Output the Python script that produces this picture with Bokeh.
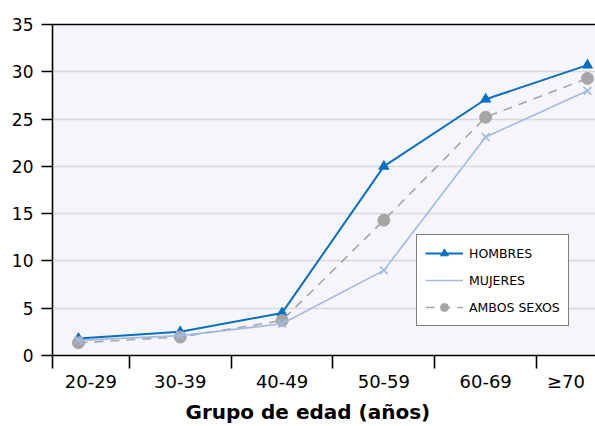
from bokeh.plotting import figure
from bokeh.models import (Range1d, LinearAxis, FixedTicker, Legend, LegendItem, Title, Grid)
from bokeh.embed import file_html
from bokeh.resources import INLINE

# ---- data ----
grupos = ["20-29", "30-39", "40-49", "50-59", "60-69", "\u226570"]
hombres = [1.8, 2.5, 4.5, 20.0, 27.1, 30.7]
mujeres = [1.6, 2.1, 3.35, 9.0, 23.1, 28.0]
ambos = [1.35, 1.95, 3.7, 14.3, 25.2, 29.3]
y_ticks = [0, 5, 10, 15, 20, 25, 30, 35]
x_title = "Grupo de edad (años)"
serie_names = ["HOMBRES", "MUJERES", "AMBOS SEXOS"]

FONT = "DejaVu Sans"
C_H = "#0870bf"
C_M = "#a2b9e3"
C_A = "#a6a6a6"

xs = list(range(len(grupos)))
x_start, x_end = -0.255, 5.079

p = figure(width=595, height=426, output_backend="svg", toolbar_location=None,
           x_range=Range1d(x_start, x_end), y_range=Range1d(0, 35),
           x_axis_type=None, y_axis_type=None,
           min_border_left=52, min_border_right=0, min_border_top=24, min_border_bottom=71)
p.background_fill_color = "#f5f5fa"
p.border_fill_color = "white"
p.outline_line_color = None

# y axis
yax = LinearAxis(ticker=FixedTicker(ticks=y_ticks))
yax.axis_line_color = "black"
yax.axis_line_width = 1.6
yax.major_tick_out = 11
yax.major_tick_in = 0
yax.major_tick_line_width = 1.6
yax.minor_tick_line_color = None
yax.major_label_text_font = FONT
yax.major_label_text_font_size = "17px"
yax.major_label_text_color = "black"
yax.major_label_standoff = 8
p.add_layout(yax, "left")

# x axis: labels centred in the visible category bands, tick marks on band boundaries
bounds = [i + 0.5 for i in xs[:-1]]
edges = [x_start] + bounds + [x_end]
label_pos = [(edges[i] + edges[i + 1]) / 2 for i in range(len(grupos))]
xax = LinearAxis(ticker=FixedTicker(ticks=label_pos, minor_ticks=[x_start] + bounds))
xax.major_label_overrides = {lp: g for lp, g in zip(label_pos, grupos)}
xax.axis_line_color = "black"
xax.axis_line_width = 1.6
xax.major_tick_out = 0
xax.major_tick_in = 0
xax.major_tick_line_color = None
xax.minor_tick_out = 13
xax.minor_tick_in = 0
xax.minor_tick_line_color = "black"
xax.minor_tick_line_width = 1.6
xax.major_label_text_font = FONT
xax.major_label_text_font_size = "18px"
xax.major_label_text_color = "black"
xax.major_label_standoff = 2
p.add_layout(xax, "below")

# top border line
top = LinearAxis(ticker=FixedTicker(ticks=[]))
top.axis_line_color = "black"
top.axis_line_width = 1.6
top.major_tick_line_color = None
top.minor_tick_line_color = None
top.major_label_text_font_size = "0px"
p.add_layout(top, "above")

# grid
p.add_layout(Grid(dimension=1, ticker=FixedTicker(ticks=y_ticks[1:-1]),
                  grid_line_color="#d9d9d9", grid_line_width=1.6))

# x title
t = Title(text=x_title, align="left", offset=133, text_font=FONT, text_font_style="bold",
          text_font_size="20px", text_color="black", standoff=6)
p.add_layout(t, "below")

# series
lh = p.line(xs, hombres, line_color=C_H, line_width=2)
mh = p.scatter(xs, hombres, marker="triangle", size=10, fill_color=C_H, line_color=C_H)
la = p.line(xs, ambos, line_color=C_A, line_width=1.6, line_dash="9 7")
ma = p.scatter(xs, ambos, marker="circle", size=12, fill_color=C_A, line_color=C_A)
lm = p.line(xs, mujeres, line_color=C_M, line_width=1.6)
mm = p.scatter(xs, mujeres, marker="x", size=11, line_color=C_M, line_width=1.6)

legend = Legend(items=[
    LegendItem(label=serie_names[0], renderers=[lh, mh]),
    LegendItem(label=serie_names[1], renderers=[lm]),
    LegendItem(label=serie_names[2], renderers=[la, ma]),
], location=(364, 29))
legend.margin = 0
legend.padding = 8
legend.spacing = 7
legend.glyph_width = 38
legend.glyph_height = 20
legend.label_height = 20
legend.label_standoff = 6
legend.label_text_font = FONT
legend.label_text_font_size = "12.5px"
legend.label_text_color = "black"
legend.border_line_color = "black"
legend.border_line_width = 1.6
legend.background_fill_color = "white"
legend.background_fill_alpha = 1
p.add_layout(legend, "center")

open("out.html", "w").write(file_html(p, INLINE))
